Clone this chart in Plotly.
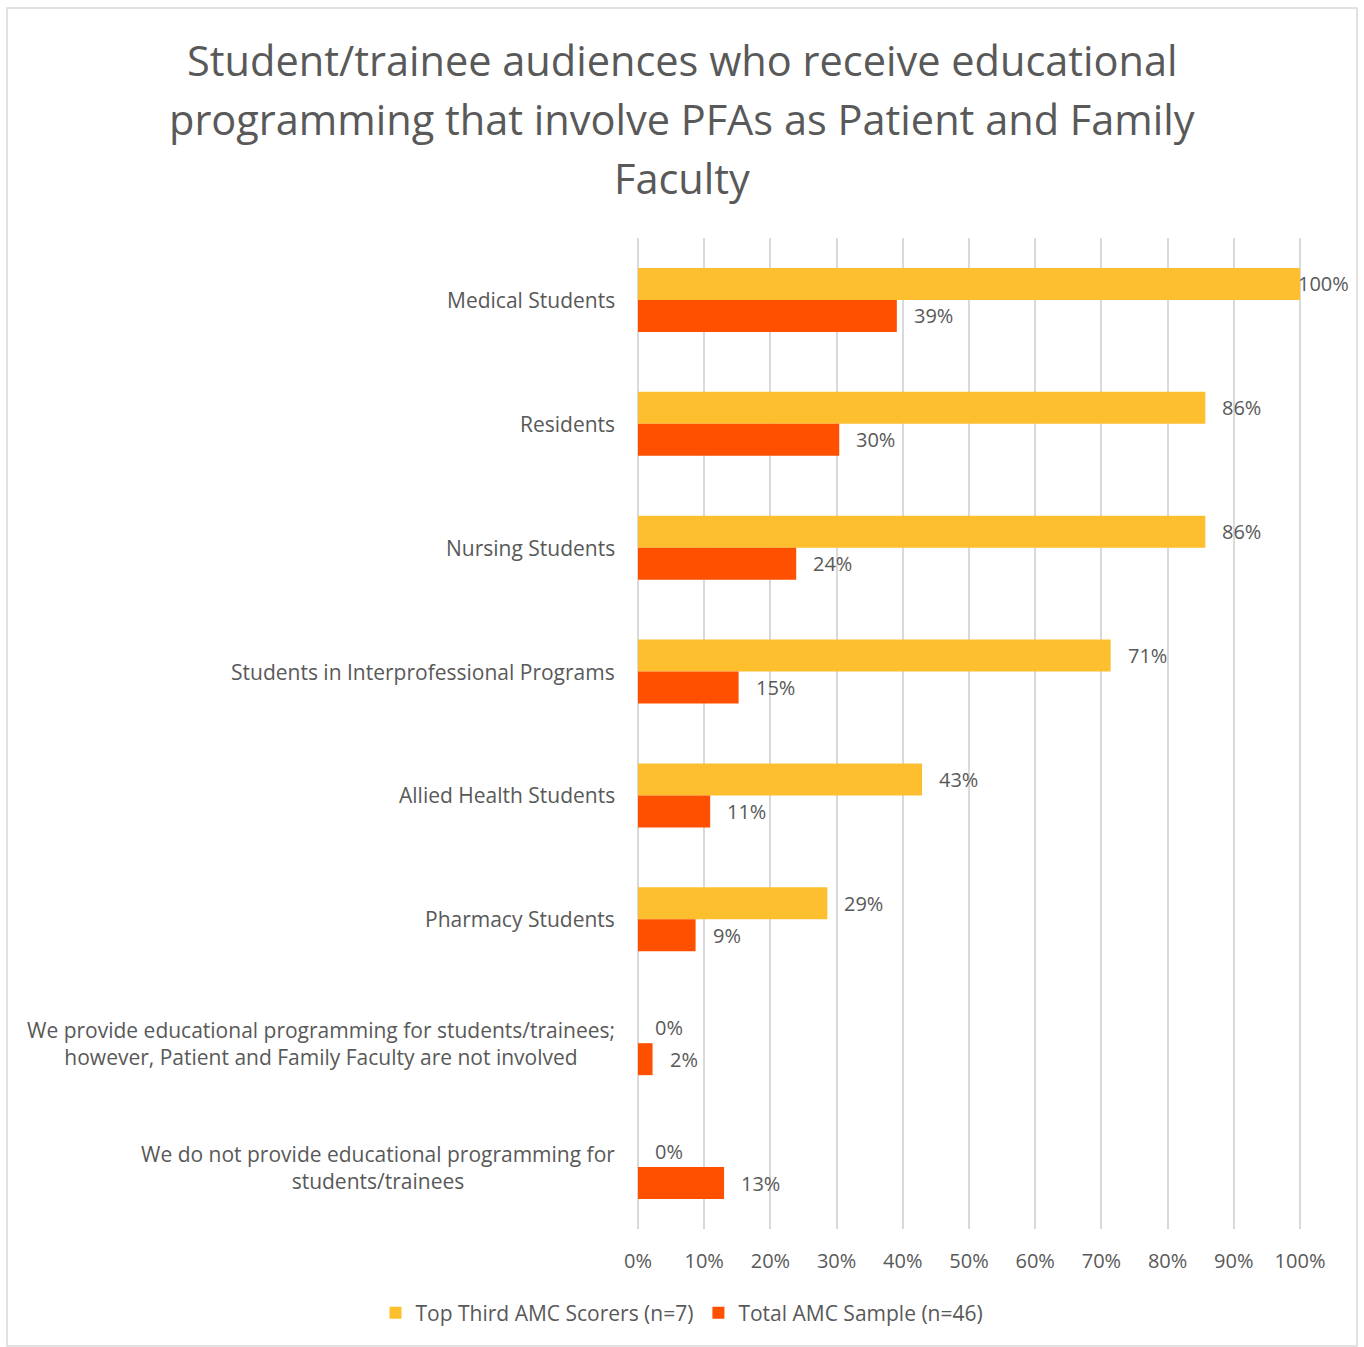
import plotly.graph_objects as go

title_lines = [
    "Student/trainee audiences who receive educational",
    "programming that involve PFAs as Patient and Family",
    "Faculty",
]
categories = [
    "Medical Students",
    "Residents",
    "Nursing Students",
    "Students in Interprofessional Programs",
    "Allied Health Students",
    "Pharmacy Students",
    "We provide educational programming for students/trainees;<br>however, Patient and Family Faculty are not involved",
    "We do not provide educational programming for<br>students/trainees",
]
top_third = [1.00, 0.857, 0.857, 0.714, 0.429, 0.286, 0.0, 0.0]
total_sample = [0.391, 0.304, 0.239, 0.152, 0.109, 0.087, 0.022, 0.130]
series_names = ["Top Third AMC Scorers (n=7)", "Total AMC Sample (n=46)"]
x_ticks = [0, 0.1, 0.2, 0.3, 0.4, 0.5, 0.6, 0.7, 0.8, 0.9, 1.0]

YELLOW = "#FEBF2F"
RED = "#FF5000"
TXT = "#595959"
FONT = "Open Sans"

W, H = 1364, 1347
PADPX = 4
L, R, T, B = 638 - PADPX, 64 - PADPX, 238, 118
PH = H - T - B
PW = W - L - R
PAD = PADPX / 662  # padding so the 0% and 100% gridlines are drawn

fig = go.Figure()
fig.add_trace(go.Bar(y=categories, x=top_third, orientation="h", name=series_names[0],
                     marker=dict(color=YELLOW, line=dict(width=0))))
fig.add_trace(go.Bar(y=categories, x=total_sample, orientation="h", name=series_names[1],
                     marker=dict(color=RED, line=dict(width=0))))

annotations = []
# title lines
for i, line in enumerate(title_lines):
    yc = [60, 119, 178][i]
    annotations.append(dict(x=(682 - L) / PW, xref="paper", y=(H - B - yc) / PH, yref="paper",
                            text=line, showarrow=False, xanchor="center", yanchor="middle",
                            font=dict(family=FONT, size=41.5, color=TXT)))
# category labels (centered multi-line, right edge near axis)
for c in categories:
    annotations.append(dict(x=0, xref="x", y=c, yref="y", text=c, showarrow=False,
                            xanchor="right", yanchor="middle", xshift=-21, align="center",
                            font=dict(family=FONT, size=21, color=TXT)))
# data labels
bar_px = 32
for vals, ysh in ((top_third, bar_px / 2), (total_sample, -bar_px / 2)):
    for c, v in zip(categories, vals):
        xs = -4 if v >= 0.999 else 15
        annotations.append(dict(x=v, xref="x", y=c, yref="y", text=f"{round(v*100)}%",
                                showarrow=False, xanchor="left", yanchor="middle",
                                xshift=xs, yshift=ysh,
                                font=dict(family=FONT, size=20, color=TXT)))

fig.update_layout(
    width=W, height=H,
    margin=dict(l=L, r=R, t=T, b=B),
    paper_bgcolor="white", plot_bgcolor="white",
    barmode="group", bargap=0.484, bargroupgap=0,
    font=dict(family=FONT, color=TXT),
    xaxis=dict(range=[-PAD, 1.0 + PAD], tickvals=x_ticks, tickformat=".0%",
               showgrid=True, gridcolor="#D9D9D9", gridwidth=1.5,
               zeroline=False, showline=False,
               ticks="outside", ticklen=14, tickcolor="rgba(0,0,0,0)",
               tickfont=dict(family=FONT, size=20, color=TXT)),
    yaxis=dict(autorange="reversed", showticklabels=False, showgrid=False,
               zeroline=False, showline=False),
    legend=dict(orientation="h", xref="container", yref="container",
                x=682 / W, xanchor="center", y=1 - 1313 / H, yanchor="middle",
                font=dict(family=FONT, size=21, color=TXT),
                itemwidth=30, traceorder="normal"),
    annotations=annotations,
    shapes=[dict(type="rect", xref="paper", yref="paper",
                 x0=(7 - L) / PW, x1=(1357 - L) / PW,
                 y0=(H - B - 1346) / PH, y1=(H - B - 8) / PH,
                 line=dict(color="#D9D9D9", width=1.5), fillcolor="rgba(0,0,0,0)", layer="below")],
)

fig.write_html("out.html")
